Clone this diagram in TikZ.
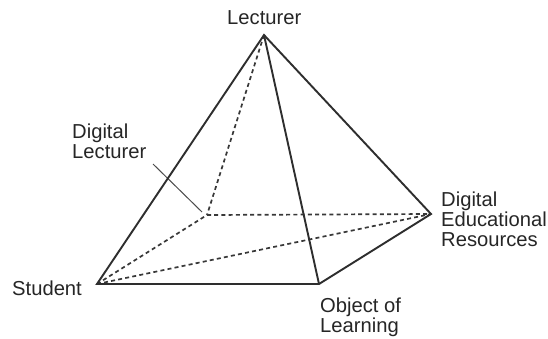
\documentclass[tikz,border=0pt]{standalone}
\usepackage{fontspec}
\setmainfont{Liberation Sans}
\tikzset{
  solidedge/.style={line width=1.9pt,draw=black!82},
  hiddenedge/.style={line width=1.7pt,draw=black!78,dash pattern=on 4pt off 3.2pt},
  leaderline/.style={line width=1pt,draw=black!70},
  lab/.style={font=\fontsize{20.2pt}{20pt}\selectfont,text=black!85,align=left,inner sep=0pt,anchor=west}
}
\begin{document}
\begin{tikzpicture}[x=1pt,y=-1pt]
\useasboundingbox (0,0) rectangle (548,338);
\fill[white] (0,0) rectangle (548,338);
\coordinate (L) at (264,35);
\coordinate (S) at (97,284);
\coordinate (O) at (319,284);
\coordinate (R) at (431,214);
\coordinate (D) at (207,215);
\coordinate (LA) at (153,164);
\coordinate (LB) at (202,212);
\draw[hiddenedge] (L) -- (D);
\draw[hiddenedge] (S) -- (D);
\draw[hiddenedge] (D) -- (R);
\draw[hiddenedge] (S) -- (R);
\draw[leaderline] (LA) -- (LB);
\draw[solidedge,line join=miter] (S) -- (L) -- (R) -- (O) -- cycle;
\draw[solidedge] (L) -- (O);
\node[lab] (nL) at (227,18) {Lecturer};
\node[lab] (nD) at (72,141) {Digital\\Lecturer};
\node[lab] (nS) at (12,288) {Student};
\node[lab] (nR) at (441,219) {Digital\\Educational\\Resources};
\node[lab] (nO) at (320,317.5) {Object of\\Learning};
\end{tikzpicture}
\end{document}
